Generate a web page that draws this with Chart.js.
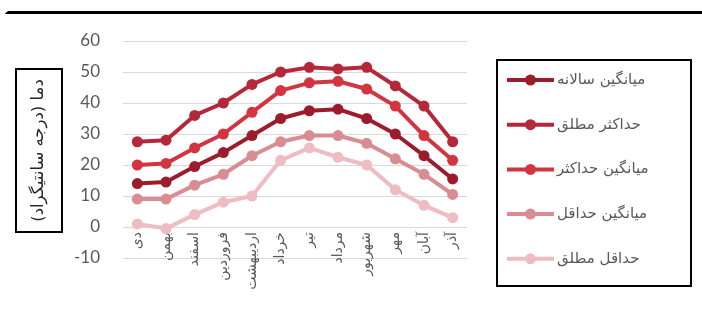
<!DOCTYPE html>
<html lang="fa">
<head>
<meta charset="utf-8">
<title>دما</title>
<script src="https://cdn.jsdelivr.net/npm/chart.js@4/dist/chart.umd.min.js"></script>
<style>
  html, body { margin: 0; padding: 0; background: #ffffff; }
  #wrap { width: 702px; height: 329px; position: relative; }
  canvas { display: block; }
</style>
</head>
<body>
<div id="wrap"><canvas id="c" width="702" height="329"></canvas></div>
<script>
// Months of the Persian calendar, starting from Dey
const months = ['دی', 'بهمن', 'اسفند', 'فروردین', 'اردیبهشت', 'خرداد', 'تیر', 'مرداد', 'شهریور', 'مهر', 'آبان', 'آذر'];

// Temperatures in °C
const annualMean = [14, 14.5, 19.5, 24, 29.5, 35, 37.5, 38, 35, 30, 23, 15.5];
const absoluteMax = [27.5, 28, 36, 40, 46, 50, 51.5, 51, 51.5, 45.5, 39, 27.5];
const meanMax = [20, 20.5, 25.5, 30, 37, 44, 46.5, 47, 44.5, 39, 29.5, 21.5];
const meanMin = [9, 9, 13.5, 17, 23, 27.5, 29.5, 29.5, 27, 22, 17, 10.5];
const absoluteMin = [1, -0.5, 4, 8, 10, 21.5, 25.5, 22.5, 20, 12, 7, 3];

const seriesNames = ['میانگین سالانه', 'حداکثر مطلق', 'میانگین حداکثر', 'میانگین حداقل', 'حداقل مطلق'];
const seriesColors = ['#9c1c2c', '#b4283a', '#d23440', '#da8c93', '#eebcc1'];

const yTitle = 'دما (درجه سانتیگراد)';
const yMin = -10, yMax = 60, yStep = 10;

const seriesValues = [annualMean, absoluteMax, meanMax, meanMin, absoluteMin];

const datasets = seriesValues.map((vals, i) => ({
  label: seriesNames[i],
  data: vals,
  borderColor: seriesColors[i],
  backgroundColor: seriesColors[i],
  borderWidth: 4,
  borderJoinStyle: 'round',
  borderCapStyle: 'round',
  pointRadius: 5.5,
  pointHoverRadius: 5.5,
  pointBorderWidth: 0,
  tension: 0
}));

const PERSIAN_FONT = '"DejaVu Sans", sans-serif';

// Frame line, boxed axis title and boxed legend
const decorations = {
  id: 'decorations',
  afterDraw(chart) {
    const ctx = chart.ctx;
    ctx.save();

    // top frame line
    ctx.fillStyle = '#000000';
    ctx.beginPath();
    ctx.moveTo(5, 13.5);
    ctx.lineTo(8, 11);
    ctx.lineTo(702, 11);
    ctx.lineTo(702, 14);
    ctx.lineTo(5, 14);
    ctx.closePath();
    ctx.fill();

    // vertical axis title in a box
    ctx.strokeStyle = '#000000';
    ctx.lineWidth = 2;
    ctx.strokeRect(16, 69, 46, 163);
    ctx.translate(39, 150.5);
    ctx.rotate(-Math.PI / 2);
    ctx.fillStyle = '#262626';
    ctx.font = '16.5px ' + PERSIAN_FONT;
    ctx.textAlign = 'center';
    ctx.textBaseline = 'middle';
    ctx.fillText(yTitle, 0, 0);
    ctx.setTransform(1, 0, 0, 1, 0, 0);

    // legend box
    ctx.strokeStyle = '#000000';
    ctx.lineWidth = 2;
    ctx.strokeRect(497, 60, 194, 226);
    ctx.font = '15px ' + PERSIAN_FONT;
    ctx.textAlign = 'left';
    ctx.textBaseline = 'middle';
    chart.data.datasets.forEach((ds, i) => {
      const y = 80 + i * 44.7;
      ctx.strokeStyle = ds.borderColor;
      ctx.lineWidth = 4;
      ctx.beginPath();
      ctx.moveTo(507, y);
      ctx.lineTo(554, y);
      ctx.stroke();
      ctx.fillStyle = ds.borderColor;
      ctx.beginPath();
      ctx.arc(530.5, y, 5.5, 0, Math.PI * 2);
      ctx.fill();
      ctx.fillStyle = '#595959';
      ctx.fillText(ds.label, 557, y);
    });
    ctx.restore();
  }
};

new Chart(document.getElementById('c'), {
  type: 'line',
  data: { labels: months, datasets },
  options: {
    responsive: false,
    animation: false,
    events: [],
    layout: { padding: { left: 0, right: 235, top: 41, bottom: 71 } },
    plugins: {
      legend: { display: false },
      tooltip: { enabled: false }
    },
    scales: {
      x: {
        type: 'category',
        position: { y: 0 },
        offset: true,
        grid: { display: false, drawTicks: false },
        border: { display: false },
        ticks: {
          autoSkip: false,
          minRotation: 90,
          maxRotation: 90,
          padding: 5,
          color: '#595959',
          font: { family: PERSIAN_FONT, size: 14 }
        }
      },
      y: {
        min: yMin,
        max: yMax,
        afterFit(scale) { scale.width = 123; },
        grid: { color: '#d9d9d9', lineWidth: 1, drawTicks: false },
        border: { display: false },
        ticks: {
          stepSize: yStep,
          padding: 23,
          color: '#595959',
          font: { family: 'Lato, "Open Sans", sans-serif', size: 17 }
        }
      }
    }
  },
  plugins: [decorations]
});
</script>
</body>
</html>
